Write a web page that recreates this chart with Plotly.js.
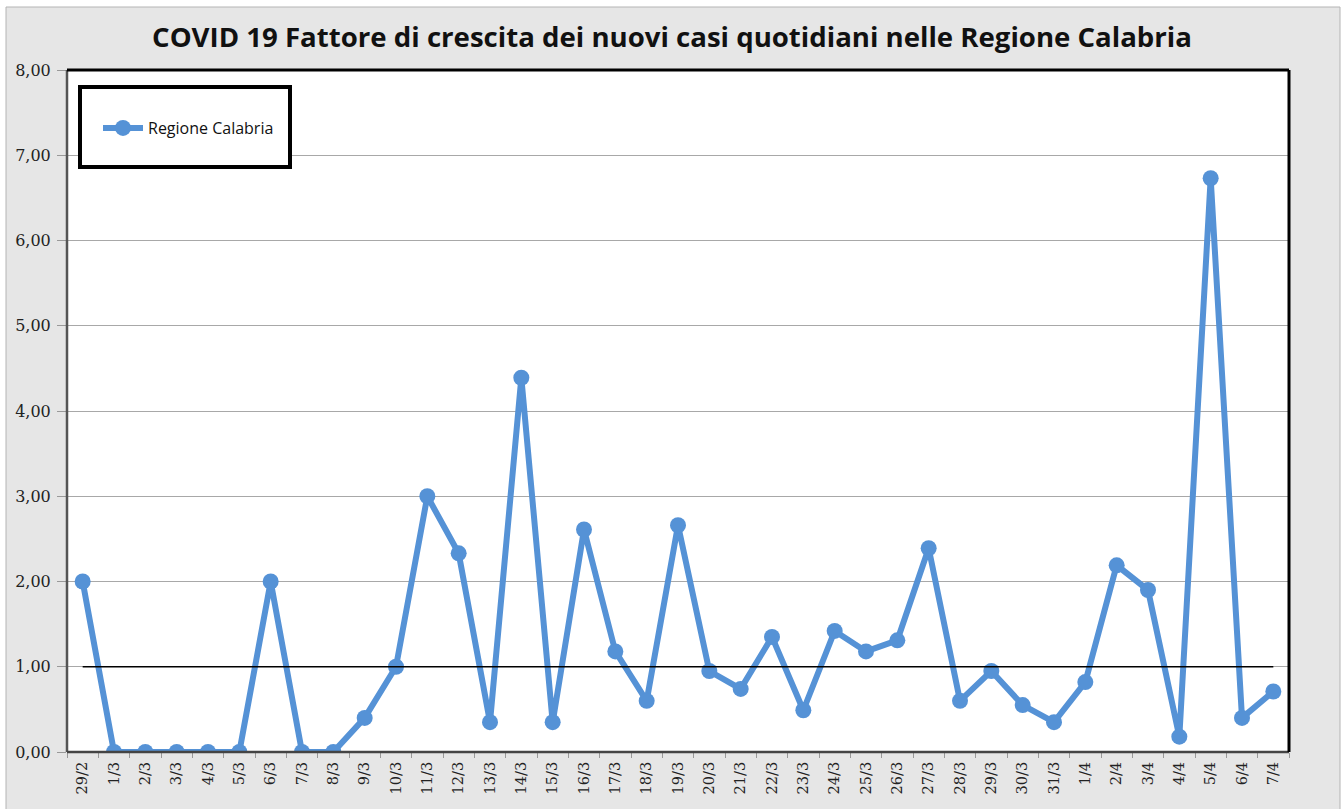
<!DOCTYPE html>
<html>
<head>
<meta charset="utf-8">
<script src="https://cdn.plot.ly/plotly-3.0.1.min.js"></script>
<style>html,body{margin:0;padding:0;background:#fff;}#chart{width:1344px;height:809px;}</style>
</head>
<body>
<div id="chart"></div>
<script>
const categories = ["29/2","1/3","2/3","3/3","4/3","5/3","6/3","7/3","8/3","9/3","10/3","11/3","12/3","13/3","14/3","15/3","16/3","17/3","18/3","19/3","20/3","21/3","22/3","23/3","24/3","25/3","26/3","27/3","28/3","29/3","30/3","31/3","1/4","2/4","3/4","4/4","5/4","6/4","7/4"];
const calabria = [2.00,0,0,0,0,0,2.00,0,0,0.40,1.00,3.00,2.33,0.35,4.39,0.35,2.61,1.18,0.60,2.66,0.95,0.74,1.35,0.49,1.42,1.18,1.31,2.39,0.60,0.95,0.55,0.35,0.82,2.19,1.90,0.18,6.73,0.40,0.71];
const seriesName = "Regione Calabria";
const threshold = 1;
const titleText = "COVID 19 Fattore di crescita dei nuovi casi quotidiani nelle Regione Calabria";

const L = 67, R = 1289, T = 70, B = 752, W = 1344, H = 809;
const pw = R - L, ph = B - T;
const px = v => (v - L) / pw;
const py = v => (B - v) / ph;

const trace = {
  x: categories, y: calabria, type: "scatter", mode: "lines+markers",
  name: seriesName,
  line: {color: "#5592d6", width: 6},
  marker: {color: "#5592d6", size: 16}
};

const serif = "'DejaVu Serif', 'Liberation Serif', serif";

const layout = {
  width: W, height: H,
  margin: {l: L, r: W - R, t: T, b: H - B, pad: 0},
  paper_bgcolor: "#ffffff",
  plot_bgcolor: "#ffffff",
  separators: ",.",
  showlegend: true,
  title: {text: titleText, x: 0.5, xanchor: "center", y: 1 - 37/H, yanchor: "middle", yref: "container",
          font: {family: "'Open Sans', sans-serif", size: 27.6, color: "#111", weight: "bold"}},
  xaxis: {type: "category", tickson: "boundaries", ticks: "outside", ticklen: 5, tickcolor: "#999",
          tickangle: -90, showgrid: false, showline: false, zeroline: false,
          ticklabelstandoff: 6,
          range: [-0.5, categories.length - 0.5],
          tickfont: {family: serif, size: 14.5, color: "#222"}},
  yaxis: {range: [0, 8], dtick: 1, tick0: 0, tickformat: ".2f", ticks: "outside", ticklen: 9, tickcolor: "#999",
          showgrid: true, gridcolor: "#a8a8a8", gridwidth: 1, zeroline: false, showline: false,
          ticklabelstandoff: 3,
          tickfont: {family: serif, size: 16, color: "#222"}},
  legend: {x: px(98), y: py(128), xanchor: "left", yanchor: "middle", bgcolor: "rgba(0,0,0,0)", borderwidth: 0,
           itemwidth: 40,
           font: {family: "'Open Sans', sans-serif", size: 16, color: "#111"}},
  shapes: [
    {type: "rect", xref: "paper", yref: "paper", layer: "below",
     x0: px(6), x1: px(1340), y0: py(7), y1: py(830),
     fillcolor: "#e6e6e6", line: {color: "#b4b4b4", width: 1}},
    {type: "rect", xref: "paper", yref: "paper", layer: "below",
     x0: 0, x1: 1, y0: 0, y1: 1, fillcolor: "#ffffff", line: {width: 0}},
    {type: "line", xref: "x", yref: "y", layer: "above",
     x0: categories[0], x1: categories[categories.length - 1], y0: threshold, y1: threshold,
     line: {color: "#000", width: 1.5}},
    {type: "line", xref: "paper", yref: "paper", layer: "above", x0: 0, x1: 0, y0: 0, y1: 1,
     line: {color: "#555", width: 2.5}},
    {type: "line", xref: "paper", yref: "paper", layer: "above", x0: 0, x1: 1, y0: 0, y1: 0,
     line: {color: "#444", width: 2.5}},
    {type: "line", xref: "paper", yref: "paper", layer: "above", x0: 0, x1: 1, y0: 1, y1: 1,
     line: {color: "#000", width: 3}},
    {type: "line", xref: "paper", yref: "paper", layer: "above", x0: 1, x1: 1, y0: 0, y1: 1,
     line: {color: "#000", width: 3}},
    {type: "rect", xref: "paper", yref: "paper", layer: "above",
     x0: px(80), x1: px(290), y0: py(167), y1: py(87),
     fillcolor: "#ffffff", line: {color: "#000", width: 4}}
  ]
};

Plotly.newPlot("chart", [trace], layout, {displayModeBar: false, staticPlot: true});
</script>
</body>
</html>
